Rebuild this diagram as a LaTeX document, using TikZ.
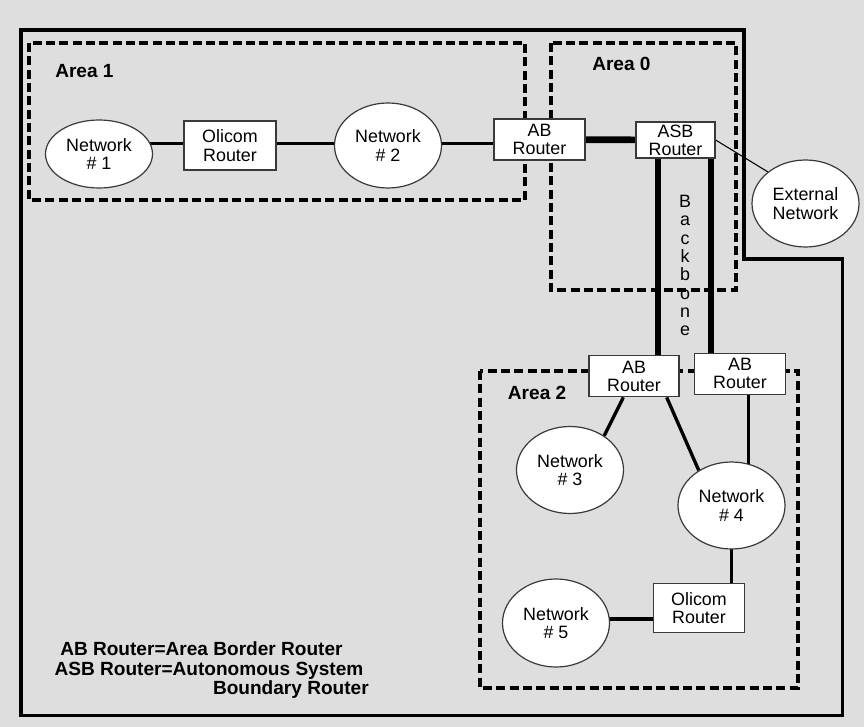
\documentclass[tikz,border=0pt]{standalone}
\usepackage{fontspec}
\setmainfont{Liberation Sans}
\usetikzlibrary{shapes.geometric}
\pgfdeclarelayer{back}
\pgfdeclarelayer{links}
\pgfsetlayers{back,links,main}
\definecolor{paper}{HTML}{DEDEDE}
\definecolor{rim}{HTML}{3A3A3A}
\begin{document}
\begin{tikzpicture}[x=0.75pt,y=-0.75pt,
  net/.style={ellipse, draw=rim, line width=0.9pt, fill=white, inner sep=0pt,
    align=center, font=\fontsize{13.4}{13.7}\selectfont},
  router/.style={rectangle, draw=rim, line width=0.9pt, fill=white, inner sep=0pt,
    align=center, font=\fontsize{13.4}{13.7}\selectfont},
  area/.style={dash pattern=on 6.8pt off 3.2pt, line width=2.6pt},
  rim line/.style={line width=2.6pt, line join=miter},
  link/.style={line width=2.5pt},
  trunk/.style={line width=5pt},
  thinlink/.style={line width=0.8pt},
  lbl/.style={inner sep=0pt, font=\fontsize{13.4}{13.7}\selectfont},
  head/.style={inner sep=0pt, font=\bfseries\fontsize{14.3}{14.3}\selectfont}]

\useasboundingbox (0,0) rectangle (864,727);
\begin{pgfonlayer}{back}
  \fill[paper] (0,0) rectangle (864,727);
\end{pgfonlayer}

% autonomous system boundary
\draw[rim line] (21,30) -- (744,30) -- (744,259) -- (842.7,259)
  -- (842.7,715.7) -- (21,715.7) -- cycle;

% areas
\draw[area] (29,43) rectangle (525,200);
\draw[area] (551,43) rectangle (736,290);
\draw[area] (480,371) rectangle (798,688);

% Area 1
\node[net, minimum width=80.25pt, minimum height=51pt] (net1) at (99,154) {Network\\\# 1};
\node[router, minimum width=69pt, minimum height=36.75pt] (oli1) at (230,145.5) {Olicom\\Router};
\node[net, minimum width=80.25pt, minimum height=63.75pt] (net2) at (388,145.5) {Network\\\# 2};

% Area 0
\node[router, minimum width=68.25pt, minimum height=30.75pt] (ab1) at (539.5,139.5) {AB\\Router};
\node[router, minimum width=59.25pt, minimum height=27pt] (asb) at (675.5,140) {ASB\\Router};
\node[net, minimum width=80.25pt, minimum height=65.25pt] (ext) at (805.5,203.5) {External\\Network};

% Area 2
\node[router, minimum width=67.5pt, minimum height=30.75pt] (abl) at (634,376.3) {AB\\Router};
\node[router, minimum width=68.25pt, minimum height=30.75pt] (abr) at (740,373.7) {AB\\Router};
\node[net, minimum width=80.25pt, minimum height=65.25pt] (net3) at (570,470) {Network\\\# 3};
\node[net, minimum width=80.25pt, minimum height=65.25pt] (net4) at (731.5,505.5) {Network\\\# 4};
\node[router, minimum width=68.25pt, minimum height=36.75pt] (oli2) at (699,608) {Olicom\\Router};
\node[net, minimum width=80.25pt, minimum height=66pt] (net5) at (556,623) {Network\\\# 5};

% reference lines for the connectors
\coordinate (rowA) at (0,143.6);
\coordinate (bbL) at (658,0);
\coordinate (bbR) at (711,0);
\coordinate (colR) at (748.3,0);
\coordinate (rowB) at (0,619.3);

\begin{pgfonlayer}{links}
  \draw[link] (net1.center |- rowA) -- (oli1.center |- rowA);
  \draw[link] (oli1.center |- rowA) -- (net2.center |- rowA);
  \draw[link] (net2.center |- rowA) -- (ab1.center |- rowA);
  \draw[trunk] (ab1.center) -- (asb.center);
  \draw[thinlink] (asb.east) -- (ext.140);
  \draw[trunk] (asb.center -| bbL) -- (abl.center -| bbL);
  \draw[trunk] (asb.center -| bbR) -- (abr.center -| bbR);
  \draw[link] (abl.south -| 623.3,0) -- (net3.45);
  \draw[link] (abl.south -| 666.7,0) -- (net4.133);
  \draw[line width=1.9pt] (abr.center -| colR) -- (net4.center -| colR);
  \draw[link] (net4.center) -- (oli2.center -| net4.center);
  \draw[line width=3pt] (net5.center |- rowB) -- (oli2.center |- rowB);
\end{pgfonlayer}

% backbone caption, one letter per line
\foreach \ch [count=\i from 0] in {B,a,c,k,b,o,n,e}
  \node[lbl, anchor=base, name=bb\i] at (685,207.7+18.3*\i) {\ch};

% area captions
\node[head, anchor=base west] (t1) at (55,77.3) {Area 1};
\node[head, anchor=base west] (t0) at (592,70.7) {Area 0};
\node[head, anchor=base west] (t2) at (507.7,399) {Area 2};

% legend
\node[head, anchor=base west] (leg1) at (60,655.7) {AB Router=Area Border Router};
\node[head, anchor=base west] (leg2) at (54.3,675) {ASB Router=Autonomous System};
\node[head, anchor=base east] (leg3) at (369,694) {Boundary Router};
\end{tikzpicture}
\end{document}
